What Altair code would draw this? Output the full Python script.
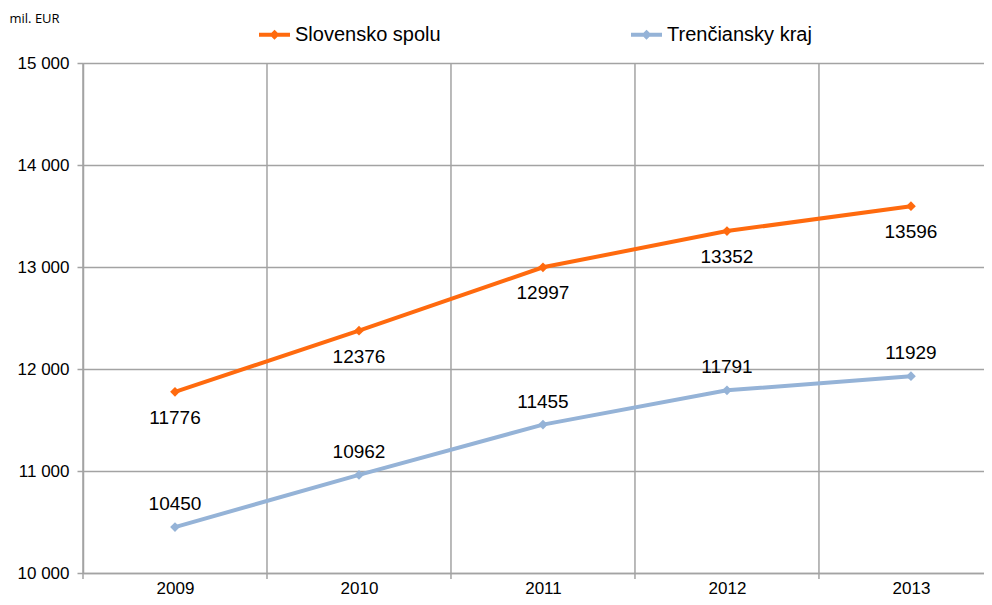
import altair as alt
import pandas as pd

years = [2009, 2010, 2011, 2012, 2013]
slovensko = [11776, 12376, 12997, 13352, 13596]
trencin = [10450, 10962, 11455, 11791, 11929]
series_names = ["Slovensko spolu", "Trenčiansky kraj"]
colors = ["#FF6A0E", "#95B3D7"]
y_ticks = [10000, 11000, 12000, 13000, 14000, 15000]

rows = []
for yr, a, b in zip(years, slovensko, trencin):
    rows.append({"year": yr, "value": a, "series": series_names[0]})
    rows.append({"year": yr, "value": b, "series": series_names[1]})
df = pd.DataFrame(rows)
bounds = pd.DataFrame({"year": [y - 0.5 for y in years]})

W, H = 901, 510
FONT = "Liberation Sans"
GRID = "#A3A3A3"

xscale = alt.Scale(domain=[years[0] - 0.5, years[-1] + 0.397], nice=False, zero=False)
yscale = alt.Scale(domain=[y_ticks[0], y_ticks[-1]], nice=False, zero=False)

xaxis = alt.Axis(values=years, format="d", grid=False, ticks=False, domain=True,
                 domainColor=GRID, domainWidth=1.5, labelFontSize=17, labelFont=FONT,
                 labelColor="#000", labelPadding=7, title=None)
yaxis = alt.Axis(values=y_ticks, labelExpr="replace(format(datum.value, ',d'), ',', ' ')",
                 grid=True, gridColor=GRID, gridWidth=1.5, tickColor=GRID, tickSize=6,
                 tickWidth=1.5, domainColor=GRID, domainWidth=1.5, labelFontSize=17,
                 labelFont=FONT, labelColor="#000", labelPadding=8,
                 title="mil. EUR", titleAngle=0, titleX=-74, titleY=-41, titleAlign="left",
                 titleBaseline="alphabetic", titleFont="Open Sans", titleFontSize=13,
                 titleFontWeight="normal", titleColor="#000")

x_enc = alt.X("year:Q", scale=xscale, axis=xaxis)
y_enc = alt.Y("value:Q", scale=yscale, axis=yaxis)

legend = alt.Legend(title=None, orient="none", legendX=174, legendY=-46, direction="horizontal",
                    symbolType="M-1,0L1,0M0,-0.14L0.14,0L0,0.14L-0.14,0Z", symbolSize=961,
                    symbolStrokeWidth=4, labelFontSize=20, labelFont=FONT, labelColor="#000",
                    labelOffset=3, columnPadding=182)
color_enc = alt.Color("series:N", scale=alt.Scale(domain=series_names, range=colors), legend=legend)

vgrid = alt.Chart(bounds).mark_rule(color=GRID, strokeWidth=1.5).encode(
    x=x_enc, y=alt.value(0), y2=alt.value(H + 6))

lines = alt.Chart(df).mark_line(strokeWidth=4).encode(x=x_enc, y=y_enc, color=color_enc)
points = alt.Chart(df).mark_point(shape="diamond", filled=True, size=95, opacity=1).encode(
    x=x_enc, y=y_enc, color=color_enc)

lab_top = alt.Chart(df).transform_filter(alt.datum.series == series_names[0]).mark_text(
    dy=26, fontSize=19, font=FONT, color="#000").encode(
    x=x_enc, y=y_enc, text=alt.Text("value:Q", format="d"))
lab_bot = alt.Chart(df).transform_filter(alt.datum.series == series_names[1]).mark_text(
    dy=-23, fontSize=19, font=FONT, color="#000").encode(
    x=x_enc, y=y_enc, text=alt.Text("value:Q", format="d"))

chart = alt.layer(vgrid, lines, points, lab_top, lab_bot).properties(
    width=W, height=H,
    autosize=alt.AutoSizeParams(type="none"),
    padding={"left": 75, "top": 55, "right": 0, "bottom": 24},
).configure_view(stroke=None).configure(background="white")

chart.save("out.html", embed_options={"renderer": "svg", "actions": False})
